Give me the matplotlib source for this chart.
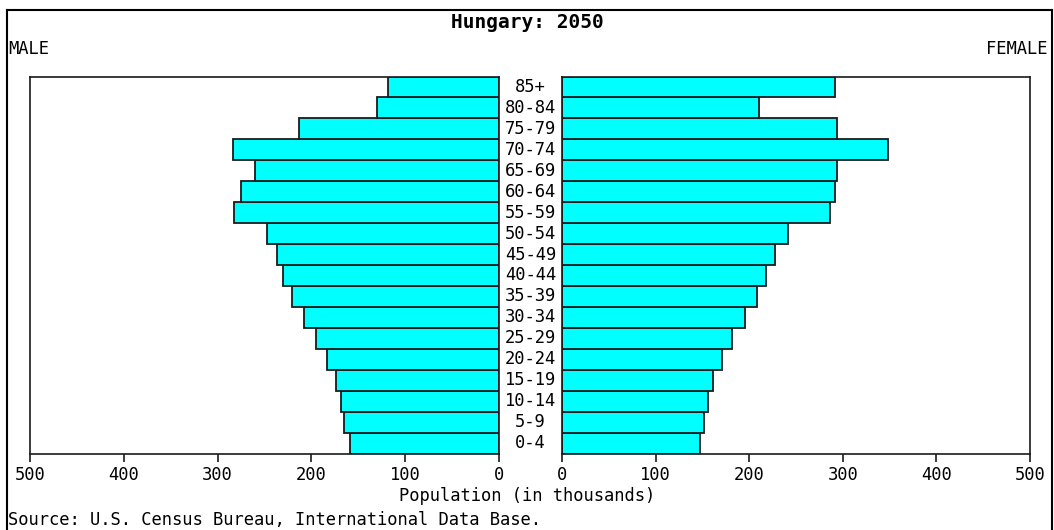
import matplotlib
matplotlib.use("Agg")
import matplotlib.pyplot as plt
from matplotlib.lines import Line2D

age_groups = ["0-4", "5-9", "10-14", "15-19", "20-24", "25-29", "30-34", "35-39",
              "40-44", "45-49", "50-54", "55-59", "60-64", "65-69", "70-74",
              "75-79", "80-84", "85+"]
male = [159, 165, 168, 174, 183, 195, 208, 221, 230, 237, 247, 282, 275, 260,
        284, 213, 130, 118]
female = [147, 152, 156, 161, 171, 182, 195, 208, 218, 228, 241, 286, 292, 294,
          348, 294, 210, 292]
ticks = [0, 100, 200, 300, 400, 500]

W, H = 1054, 530
fig = plt.figure(figsize=(W / 100, H / 100), dpi=100)
plt.rcParams['font.family'] = ['DejaVu Sans Mono']

FS = 12.3
fill = "#00FFFF"
edge = "#1a1a1a"

def fx(px):
    return px / W

def fy(py):
    return 1 - py / H

ax_top, ax_bot = 76.5, 453.5
axL = fig.add_axes([fx(30), fy(ax_bot), fx(499) - fx(30), fy(ax_top) - fy(ax_bot)])
axR = fig.add_axes([fx(562), fy(ax_bot), fx(1030) - fx(562), fy(ax_top) - fy(ax_bot)])

y = list(range(len(age_groups)))
axL.barh(y, male, height=1.0, color=fill, edgecolor=edge, linewidth=1.3)
axR.barh(y, female, height=1.0, color=fill, edgecolor=edge, linewidth=1.3)

for ax in (axL, axR):
    ax.set_ylim(-0.5, len(age_groups) - 0.5)
    ax.set_xlim(0, 500)
    ax.set_yticks([])
    ax.set_xticks(ticks)
    ax.set_xticklabels([str(t) for t in ticks], fontsize=FS)
    ax.tick_params(axis='x', direction='out', length=6, width=1.2, pad=3, color=edge)
    for s in ax.spines.values():
        s.set_linewidth(1.2)
        s.set_color(edge)
axL.invert_xaxis()

# age labels in the gap
for i, lab in enumerate(age_groups):
    yy = ax_top + (len(age_groups) - 1 - i + 0.5) * (ax_bot - ax_top) / len(age_groups)
    fig.text(fx(530.5), fy(yy), lab, ha='center', va='center', fontsize=FS)

fig.text(fx(527), fy(22), "Hungary: 2050", ha='center', va='center',
         fontsize=14, fontweight='bold')
fig.text(fx(8), fy(49), "MALE", ha='left', va='center', fontsize=FS)
fig.text(fx(1047), fy(49), "FEMALE", ha='right', va='center', fontsize=FS)
fig.text(fx(527), fy(496), "Population (in thousands)", ha='center', va='center', fontsize=FS)
fig.text(fx(8), fy(520), "Source: U.S. Census Bureau, International Data Base.",
         ha='left', va='center', fontsize=FS)

# outer frame (left, top, right)
bx0, bx1, by0 = fx(6.5), fx(1051.5), fy(9.5)
for xs, ys in [([bx0, bx0], [by0, 0]), ([bx0, bx1], [by0, by0]), ([bx1, bx1], [by0, 0])]:
    fig.add_artist(Line2D(xs, ys, color='black', linewidth=1.5, transform=fig.transFigure))

fig.savefig("out.png", dpi=100, facecolor='white')
